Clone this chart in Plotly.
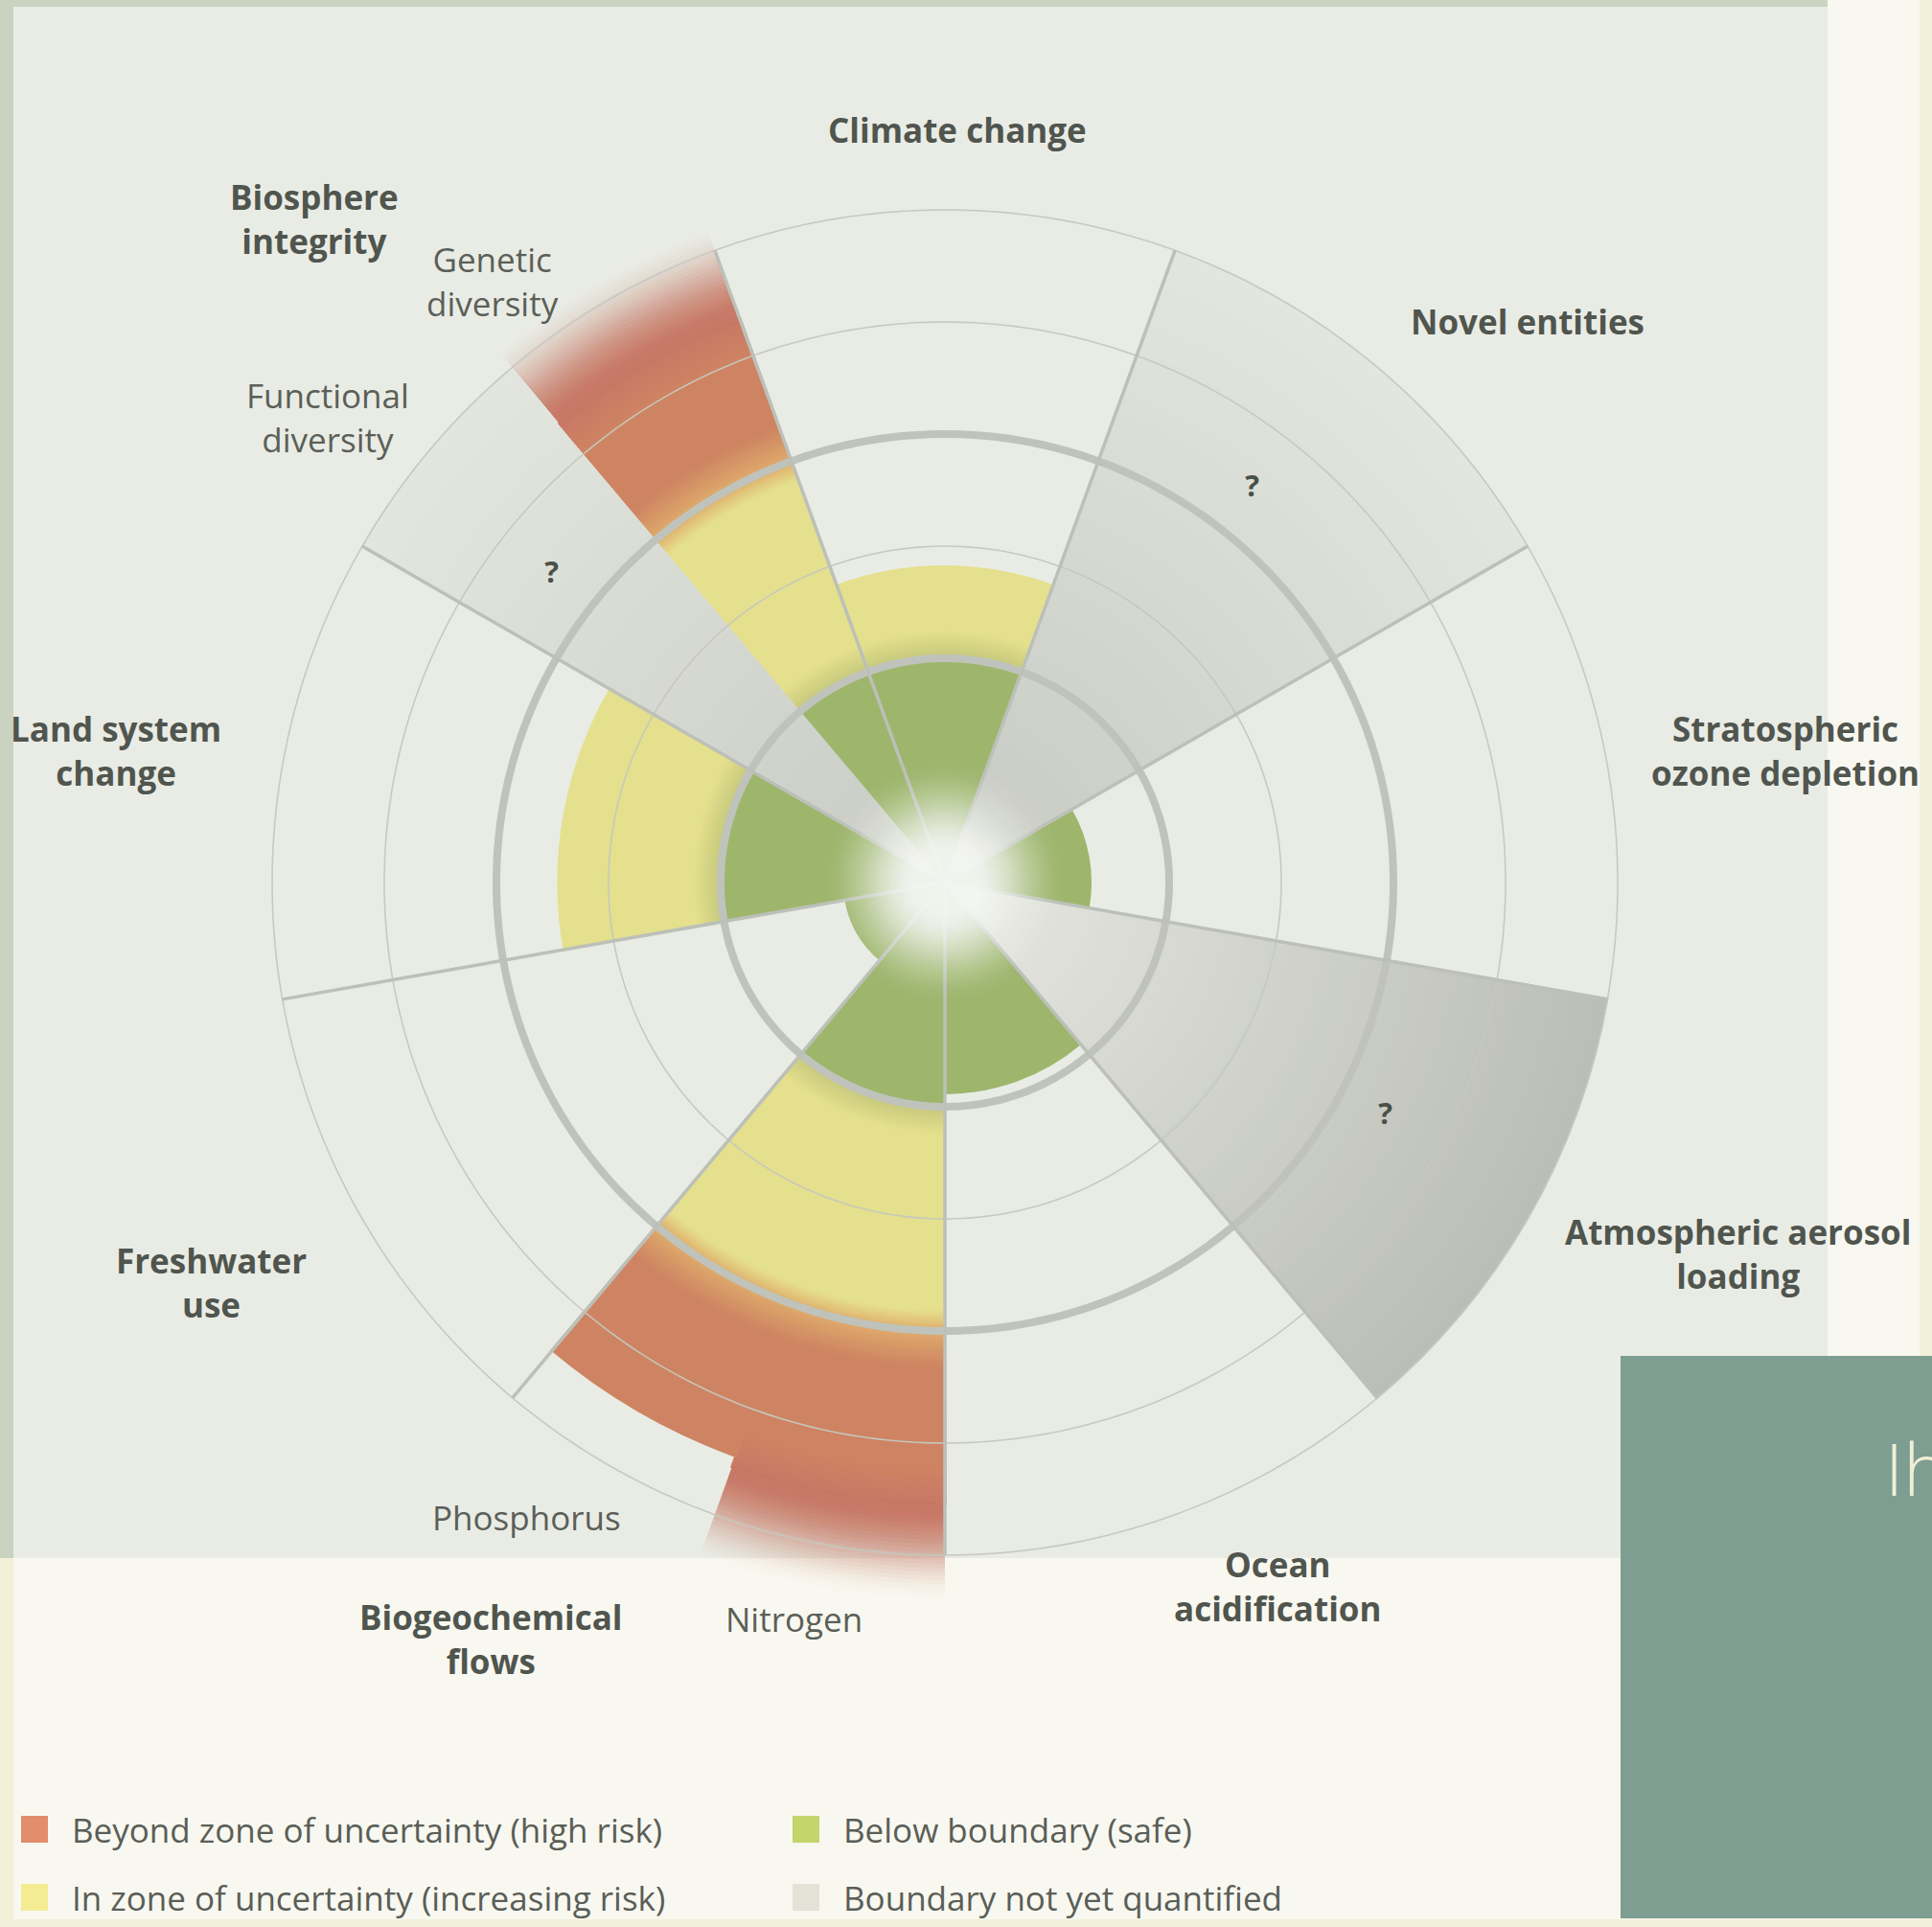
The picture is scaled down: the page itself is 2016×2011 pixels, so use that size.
import numpy as np
import plotly.graph_objects as go

W, H = 2016, 2011

# ---------------- data ----------------
boundaries = ["Climate change", "Novel entities", "Stratospheric ozone depletion",
              "Atmospheric aerosol loading", "Ocean acidification", "Biogeochemical flows",
              "Freshwater use", "Land system change", "Biosphere integrity"]
variables = ["Climate change", "Novel entities", "Stratospheric ozone depletion",
             "Atmospheric aerosol loading", "Ocean acidification", "Nitrogen", "Phosphorus",
             "Freshwater use", "Land system change", "Functional diversity", "Genetic diversity"]
variable_group = ["Climate change", "Novel entities", "Stratospheric ozone depletion",
                  "Atmospheric aerosol loading", "Ocean acidification", "Biogeochemical flows",
                  "Biogeochemical flows", "Freshwater use", "Land system change",
                  "Biosphere integrity", "Biosphere integrity"]
# control-variable status on a normalised radial scale
# (2 = planetary boundary, 4 = upper end of the zone of uncertainty); None = not quantified
status = [2.82, None, 1.3, None, 1.88, 6.4, 5.45, 0.9, 3.45, None, 6.2]
BOUNDARY = 2.0
ZONE_TOP = 4.0
CHART_MAX = 6.0
thick_rings = [2, 4]
thin_rings = [3, 5, 6]
unknown_mark = "?"

legend_labels = ["Beyond zone of uncertainty (high risk)", "Below boundary (safe)",
                 "In zone of uncertainty (increasing risk)", "Boundary not yet quantified"]

# ---------------- styles ----------------
GREEN = "#9db66c"
OLIVE = "#c2c67b"
YELLOW = "#e5e08d"
ORANGE = "#dfac6b"
RED = "#ce8462"
RED_DARK = "#c87866"
gray_style = {"Novel entities": ("#c6c9c1", "#e3e6df"),
              "Atmospheric aerosol loading": ("#e6e8e1", "#bbbeb6"),
              "Functional diversity": ("#c8cbc3", "#e3e6df")}
legend_colors = ["#e28d6b", "#c3d56b", "#f4eb93", "#e4e3d8"]
TXT_BOLD = "#50554e"
TXT_REG = "#5b5f58"
FONT = "Open Sans"
ANG_OVERLAP = 0.3


def hex2rgb(h):
    h = h.lstrip("#")
    return tuple(int(h[i:i + 2], 16) for i in (0, 2, 4))


def mix(c0, c1, t):
    a, b = hex2rgb(c0), hex2rgb(c1)
    return tuple(a[i] + (b[i] - a[i]) * t for i in range(3))


def rgba(c, a=1.0):
    if isinstance(c, str):
        c = hex2rgb(c)
    return f"rgba({int(round(c[0]))},{int(round(c[1]))},{int(round(c[2]))},{a:.3f})"


# angular layout of sectors (computed from the category structure)
span = 360 / len(boundaries)
theta_c, widths = [], []
for v, g in zip(variables, variable_group):
    members = [x for x, gg in zip(variables, variable_group) if gg == g]
    k, m = members.index(v), len(members)
    j = boundaries.index(g)
    start = j * span - span / 2
    w = span / m
    theta_c.append((start + w * (k + 0.5)) % 360)
    widths.append(w)

solid = dict(theta=[], width=[], base=[], r=[], color=[])
fades = dict(theta=[], width=[], base=[], r=[], color=[])


def band(store, th, w, r0, r1, col, a=1.0, overlap=0.0, wover=0.0):
    if r1 <= r0:
        return
    store["theta"].append(th)
    store["width"].append(w + wover)
    store["base"].append(r0)
    store["r"].append(r1 - r0 + overlap)
    store["color"].append(rgba(col, a))


def sband(th, w, r0, r1, col):
    band(solid, th, w, r0, r1, col, 1.0, overlap=0.008, wover=ANG_OVERLAP)


def gradient(th, w, r0, r1, c0, c1, step=0.03):
    if r1 <= r0:
        return
    n = max(1, int(np.ceil((r1 - r0) / step)))
    e = np.linspace(r0, r1, n + 1)
    for i in range(n):
        t = (i + 0.5) / n
        sband(th, w, e[i], e[i + 1], mix(c0, c1, t))


def fade(th, w, r0, r1, col, n=24):
    # nested bars: cumulative opacity ramps from 1 at r0 to 0 at r1
    tops = [r1 - (r1 - r0) * k / n for k in range(n)]
    prev = 0.0
    for k in range(n):
        t = (k + 1) / n
        A = t * t * (3 - 2 * t)
        a = 1.0 if A >= 1 else 1 - (1 - A) / (1 - prev)
        prev = A
        band(fades, th, w, r0, tops[k], col, a)


for th, w, v, s in zip(theta_c, widths, variables, status):
    if s is None:
        ci, co = gray_style[v]
        gradient(th, w, 0, CHART_MAX, ci, co, step=0.08)
        continue
    sband(th, w, 0, min(s, BOUNDARY), GREEN)
    if s > BOUNDARY:
        top = min(s, ZONE_TOP)
        g_end = min(top, BOUNDARY + 0.25)
        gradient(th, w, BOUNDARY - 0.02, g_end, OLIVE, YELLOW)
        y_end = top - 0.18 if s > ZONE_TOP else top
        sband(th, w, g_end, y_end, YELLOW)
        if s > ZONE_TOP:
            gradient(th, w, ZONE_TOP - 0.18, ZONE_TOP, YELLOW, ORANGE)
    if s > ZONE_TOP:
        gradient(th, w, ZONE_TOP, ZONE_TOP + 0.32, ORANGE, RED)
        if s > CHART_MAX:
            f0 = s - 0.85
            sband(th, w, ZONE_TOP + 0.32, f0 - 0.35, RED)
            gradient(th, w, f0 - 0.35, f0, RED, RED_DARK, step=0.04)
            fade(th, w, f0 - 0.01, s, RED_DARK)
        else:
            sband(th, w, ZONE_TOP + 0.32, s, RED)

fig = go.Figure()
fig.add_trace(go.Barpolar(theta=solid["theta"], width=solid["width"], base=solid["base"],
                          r=solid["r"], marker=dict(color=solid["color"], line=dict(width=0)),
                          hoverinfo="skip", showlegend=False))
fig.add_trace(go.Barpolar(theta=fades["theta"], width=fades["width"], base=fades["base"],
                          r=fades["r"], marker=dict(color=fades["color"], line=dict(width=0)),
                          hoverinfo="skip", showlegend=False))

circ = np.linspace(0, 360, 361)
for rr in thin_rings:
    fig.add_trace(go.Scatterpolar(theta=circ, r=[rr] * len(circ), mode="lines",
                                  line=dict(color="rgba(196,200,191,0.95)", width=1.6),
                                  hoverinfo="skip", showlegend=False))
for rr in thick_rings:
    fig.add_trace(go.Scatterpolar(theta=circ, r=[rr] * len(circ), mode="lines",
                                  line=dict(color="#bfc3bb", width=8),
                                  hoverinfo="skip", showlegend=False))

# sector dividers
div_t, div_r = [], []
for j in range(len(boundaries)):
    a = (j * span - span / 2) % 360
    div_t += [a, a, None]
    div_r += [0.0, CHART_MAX, None]
fig.add_trace(go.Scatterpolar(theta=div_t, r=div_r, mode="lines",
                              line=dict(color="#bcc0b8", width=3.5),
                              hoverinfo="skip", showlegend=False))

# central glow
G_IN, G_OUT, NG = 0.26, 1.12, 30
radii = np.linspace(G_OUT, G_IN, NG)
prev = 0.0
for k, rk in enumerate(radii):
    if k < NG - 1:
        rm = (rk + radii[k + 1]) / 2
        t = np.clip((G_OUT - rm) / (G_OUT - G_IN), 0, 1)
        A = 0.97 * t * t * (3 - 2 * t)
    else:
        A = 0.97
    a = 1 - (1 - A) / (1 - prev)
    prev = A
    fig.add_trace(go.Scatterpolar(theta=circ, r=[rk] * len(circ), mode="lines",
                                  fill="toself", fillcolor=f"rgba(245,247,242,{a:.3f})",
                                  line=dict(width=0, color="rgba(0,0,0,0)"),
                                  hoverinfo="skip", showlegend=False))

# question marks for unquantified boundaries
q_t = [(th - 2) % 360 for th, s in zip(theta_c, status) if s is None]
fig.add_trace(go.Scatterpolar(theta=q_t, r=[4.45] * len(q_t), mode="text",
                              text=[unknown_mark] * len(q_t),
                              textfont=dict(family=FONT, size=31, color="#4b5049", weight=700),
                              hoverinfo="skip", showlegend=False))

# ---------------- layout ----------------
R_RANGE = 6.5
cx, cy, r6 = 986, 921, 702
rad = r6 * R_RANGE / CHART_MAX
fig.update_layout(
    width=W, height=H, margin=dict(l=0, r=0, t=0, b=0),
    paper_bgcolor="#f3efd9", plot_bgcolor="rgba(0,0,0,0)", showlegend=False,
    polar=dict(
        domain=dict(x=[(cx - rad) / W, (cx + rad) / W], y=[1 - (cy + rad) / H, 1 - (cy - rad) / H]),
        bgcolor="rgba(0,0,0,0)", bargap=0, barmode="overlay", hole=0,
        radialaxis=dict(range=[0, R_RANGE], visible=False, showgrid=False),
        angularaxis=dict(rotation=90, direction="clockwise", visible=False, showgrid=False),
    ),
)


def px_rect(x0, y0, x1, y1, color, layer="below"):
    return dict(type="rect", xref="paper", yref="paper", layer=layer,
                x0=x0 / W, x1=x1 / W, y0=1 - y1 / H, y1=1 - y0 / H,
                fillcolor=color, line=dict(width=0))


shapes = [
    px_rect(14, 0, 2003, 2003, "#f8f8f0"),
    px_rect(0, 0, 1907, 1626, "#c9d3c0"),
    px_rect(14, 7, 1907, 1626, "#e9ece5"),
    px_rect(1691, 1415, 2016, 2002, "#7d9e91"),
]

annotations = []


def label(text, x, y, size=35, bold=True, color=None, anchor="center", weight=None):
    annotations.append(dict(
        text=text, xref="paper", yref="paper", x=x / W, y=1 - y / H,
        xanchor=anchor, yanchor="middle", showarrow=False, align="center",
        font=dict(family=FONT, size=size, color=color or (TXT_BOLD if bold else TXT_REG),
                  weight=weight if weight else (700 if bold else 400))))


bold_labels = [("Climate change", 999, 136), ("Novel entities", 1594, 336),
               ("Stratospheric<br>ozone depletion", 1863, 783),
               ("Atmospheric aerosol<br>loading", 1813, 1308),
               ("Ocean<br>acidification", 1333, 1655),
               ("Biogeochemical<br>flows", 512, 1710),
               ("Freshwater<br>use", 220, 1338),
               ("Land system<br>change", 121, 783),
               ("Biosphere<br>integrity", 328, 228)]
for t, x, y in bold_labels:
    label(t, x, y)

reg_labels = [("Genetic<br>diversity", 514, 294),
              ("Functional<br>diversity", 342, 435),
              ("Phosphorus", 549, 1583), ("Nitrogen", 828, 1689)]
for t, x, y in reg_labels:
    label(t, x, y, bold=False)

# legend
leg_pos = [(22, 1909), (827, 1909), (22, 1980), (827, 1980)]
for (x, y), txt, col in zip(leg_pos, legend_labels, legend_colors):
    shapes.append(px_rect(x, y - 14, x + 28, y + 14, col, layer="above"))
    label(txt, x + 51, y, bold=False, anchor="left", color="#5a5e57")

label("Ih", 1965, 1531, size=76, bold=False, color="#f2eed5", anchor="left", weight=300)

fig.update_layout(shapes=shapes, annotations=annotations)

fig.write_html("out.html", config={"displayModeBar": False},
               post_script="document.body.style.margin='0';")
